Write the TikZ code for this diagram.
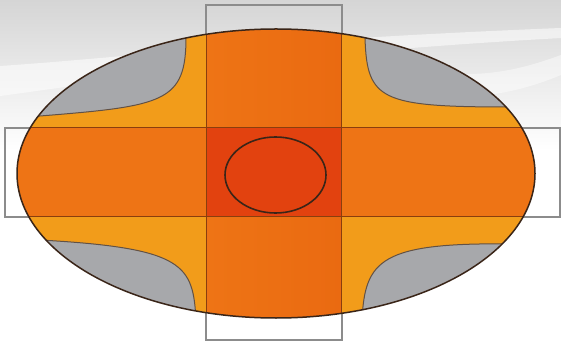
\documentclass[tikz,border=0pt]{standalone}
\definecolor{bggray}{HTML}{D5D5D5}
\definecolor{boxgray}{HTML}{8C8C8C}
\definecolor{cornergray}{HTML}{A7A8AB}
\definecolor{amber}{HTML}{F29C1A}
\definecolor{orng}{HTML}{EE7415}
\definecolor{orngR}{HTML}{EA6A11}
\definecolor{centerred}{HTML}{E2420F}
\definecolor{darkline}{HTML}{3A2518}
\definecolor{barline}{HTML}{8A3E0E}
\tikzset{
  boxline/.style={draw=boxgray, line width=1.3pt},
  barlinestyle/.style={draw=barline, line width=1pt},
  cornerline/.style={draw=darkline!80, line width=1pt},
  rimline/.style={draw=darkline, line width=1.5pt}
}
\begin{document}
\begin{tikzpicture}[x=1pt,y=-1pt]
\useasboundingbox (0,0) rectangle (561,344);
% background
\fill[white] (0,0) rectangle (561,344);
\shade[top color=bggray, bottom color=white] (0,0) rectangle (561,150);
\fill[white,opacity=0.55] (0,66) .. controls (120,58) and (260,40) .. (561,28) -- (561,38) .. controls (260,55) and (120,80) .. (0,96) -- cycle;
\fill[white,opacity=0.45] (420,70) .. controls (480,80) and (520,70) .. (561,55) -- (561,75) .. controls (520,92) and (480,100) .. (430,95) -- cycle;
\coordinate (C) at (276,173.5);
% outer boxes
\draw[boxline] (5,128) rectangle (560,217);
\draw[boxline] (206,5) rectangle (342,340);
% ellipse body
\fill[cornergray] (C) ellipse [x radius=259pt, y radius=144.5pt];
\begin{scope}
  \clip (C) ellipse [x radius=259pt, y radius=144.5pt];
  % amber region
  \filldraw[fill=amber, cornerline]
    (10,118) -- (20,118) -- (40,116)
      .. controls (165,106) and (186,102) .. (186,37) -- (187,20)
    -- (364,20) -- (365,38)
      .. controls (367,100) and (380,107) .. (510,107) -- (545,107)
    -- (545,244) -- (515,244)
      .. controls (380,242) and (365,260) .. (362,320) -- (362,330)
    -- (196,330) -- (196,320)
      .. controls (193,265) and (185,248) .. (40,240) -- (10,240) -- cycle;
  % cross bars
  \fill[orng] (0,128) rectangle (561,217);
  \shade[left color=orng, right color=orngR] (206.5,0) rectangle (341,344);
  \fill[centerred] (206.5,128) rectangle (341,217);
  \draw[barlinestyle] (0,128) -- (561,128) (0,217) -- (561,217);
  \draw[barlinestyle] (206.5,0) -- (206.5,344) (341,0) -- (341,344);
\end{scope}
% rim
\draw[rimline] (C) ellipse [x radius=259pt, y radius=144.5pt];
% inner ellipse
\draw[draw=darkline, line width=1.6pt, fill=centerred] (275.5,175) ellipse [x radius=50.5pt, y radius=38pt];
\end{tikzpicture}
\end{document}
